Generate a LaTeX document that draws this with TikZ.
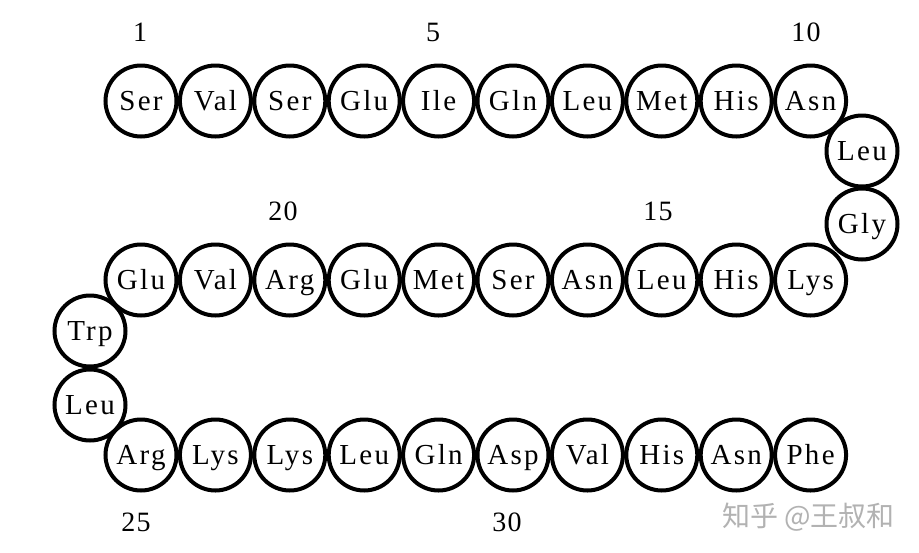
\documentclass[tikz,border=0pt]{standalone}
\usepackage{fontspec}
\setmainfont{Liberation Serif}
\newfontfamily\labfont[LetterSpace=8]{Liberation Serif}
\newfontfamily\numfont[LetterSpace=4]{Liberation Serif}
\newfontfamily\cjkfont{Noto Sans CJK SC}
\begin{document}
\begin{tikzpicture}[x=1pt,y=-1pt,
  res/.style={circle,draw=black,line width=4pt,minimum size=71pt,inner sep=0pt,
    text height=23pt,text depth=5pt,
    font=\labfont\fontsize{29}{30}\selectfont},
  num/.style={font=\numfont\fontsize{28}{32}\selectfont,inner sep=0pt},
  wm/.style={font=\cjkfont\fontsize{28}{30}\selectfont,text=black!30,inner sep=0pt}]
\useasboundingbox[fill=white] (0,0) rectangle (919,552);
\foreach \n/\t/\x/\y in {
  1/Ser/141/101, 2/Val/215.4/101, 3/Ser/289.8/101, 4/Glu/364.2/101, 5/Ile/438.6/101,
  6/Gln/513/101, 7/Leu/587.4/101, 8/Met/661.8/101, 9/His/736.2/101, 10/Asn/810.6/101,
  11/Leu/862/151, 12/Gly/862/224,
  13/Lys/810.6/280, 14/His/736.2/280, 15/Leu/661.8/280, 16/Asn/587.4/280, 17/Ser/513/280,
  18/Met/438.6/280, 19/Glu/364.2/280, 20/Arg/289.8/280, 21/Val/215.4/280, 22/Glu/141/280,
  23/Trp/90/331, 24/Leu/90/405,
  25/Arg/141/455, 26/Lys/215.4/455, 27/Lys/289.8/455, 28/Leu/364.2/455, 29/Gln/438.6/455,
  30/Asp/513/455, 31/Val/587.4/455, 32/His/661.8/455, 33/Asn/736.2/455, 34/Phe/810.6/455}
  \node[res] (r\n) at (\x,\y) {\t};
\node[num] (n1) at (140,32) {1};
\node[num] (n5) at (433,32) {5};
\node[num] (n10) at (806,32) {10};
\node[num] (n15) at (658,211) {15};
\node[num] (n20) at (283,211) {20};
\node[num] (n25) at (136,522) {25};
\node[num] (n30) at (507,522) {30};
\node[wm,anchor=west] (wm) at (722,517) {知乎 @王叔和};
\end{tikzpicture}
\end{document}
